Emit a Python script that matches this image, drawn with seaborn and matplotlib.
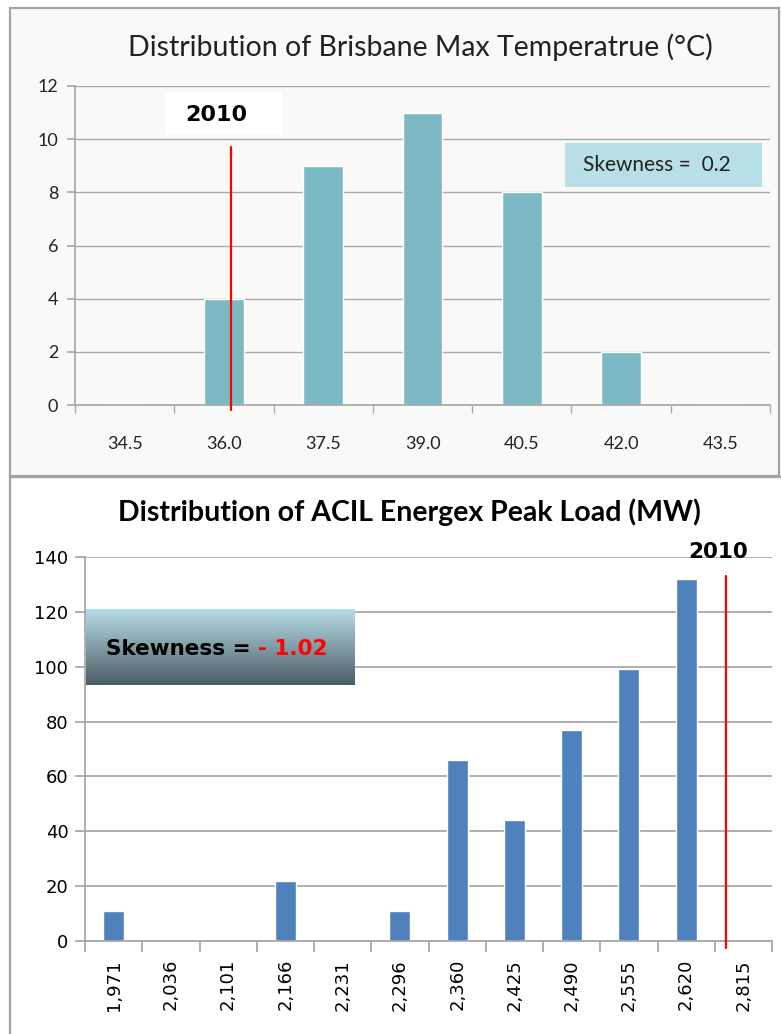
import numpy as np
import pandas as pd
import matplotlib
matplotlib.use("Agg")
import matplotlib.pyplot as plt
import seaborn as sns
from matplotlib.patches import Rectangle

# ---- data -------------------------------------------------------------
temp_bins = ["34.5", "36.0", "37.5", "39.0", "40.5", "42.0", "43.5"]
temp_counts = [0, 4, 9, 11, 8, 2, 0]
temp_skew = "0.2"
temp_2010_pos = 1.07      # 2010 marker, in bin units
temp_2010_top = 9.7

load_bins = ["1,971", "2,036", "2,101", "2,166", "2,231", "2,296",
             "2,360", "2,425", "2,490", "2,555", "2,620", "2,815"]
load_counts = [11, 0, 0, 22, 0, 11, 66, 44, 77, 99, 132, 0]
load_skew = "- 1.02"
load_2010_pos = 10.69     # 2010 marker, in bin units
load_2010_top = 133

sns.set_theme(style="white")
plt.rcParams["font.family"] = ["Lato", "DejaVu Sans"]

W, H = 781, 1034
fig = plt.figure(figsize=(W / 100, H / 100), dpi=100)
fig.patch.set_facecolor("white")


def fx(px):
    return px / W


def fy(py):
    return 1 - py / H


def frame(x0, y0, x1, y1, fc):
    fig.patches.append(Rectangle((fx(x0), fy(y1)), fx(x1) - fx(x0), (y1 - y0) / H,
                                 transform=fig.transFigure, facecolor=fc,
                                 edgecolor="#a3a3a3", linewidth=1.6, zorder=-5))


GRID = "#a8a8a8"
frame(10, 8, 779, 476, "#f9f9f7")
frame(10, 477, 790, 1040, "white")

# ---- top panel: temperature histogram ---------------------------------
ax1 = fig.add_axes([fx(75), fy(405), fx(770) - fx(75), (405 - 86) / H])
ax1.set_facecolor("#f9f9f7")
df_t = pd.DataFrame({"bin": temp_bins, "count": temp_counts})
sns.barplot(data=df_t, x="bin", y="count", order=temp_bins, color="#7db9c4",
            saturation=1, width=0.4, ax=ax1, zorder=2)
ax1.set_xlim(-0.5, len(temp_bins) - 0.5)
ax1.set_ylim(0, 12)
ax1.set_yticks(range(0, 13, 2))
ax1.set_xlabel("")
ax1.set_ylabel("")
ax1.yaxis.grid(True, color=GRID, lw=1)
ax1.set_axisbelow(True)
for s in ["top", "right"]:
    ax1.spines[s].set_visible(False)
for s in ["left", "bottom"]:
    ax1.spines[s].set_color(GRID)
ax1.set_xticks(np.arange(-0.5, len(temp_bins)), minor=True)
ax1.tick_params(axis="x", which="major", length=0, pad=22, labelsize=13,
                labelcolor="#222222")
ax1.tick_params(axis="x", which="minor", length=6, color=GRID, direction="out",
                bottom=True)
ax1.tick_params(axis="y", length=6, color=GRID, left=True, direction="out",
                labelsize=13, labelcolor="#222222", pad=6)
ax1.plot([temp_2010_pos, temp_2010_pos], [-0.2, temp_2010_top], color="red",
         lw=1.6, clip_on=False, zorder=3)
fig.text(fx(420), fy(47),
         "Distribution of Brisbane Max Temperatrue (°C)",
         ha="center", va="center", fontsize=20.5, color="#222222")

# 2010 label on a white block
fig.patches.append(Rectangle((fx(165), fy(135)), fx(282) - fx(165), 43 / H,
                             transform=fig.transFigure, facecolor="white",
                             edgecolor="none", zorder=5))
fig.text(fx(216), fy(115), "2010", ha="center", va="center", fontsize=16,
         fontweight="bold", family="DejaVu Sans", color="black", zorder=6)

# skewness badge
fig.patches.append(Rectangle((fx(565), fy(187)), fx(762) - fx(565), 44 / H,
                             transform=fig.transFigure, facecolor="#b9dfe6",
                             edgecolor="none", zorder=5))
fig.text(fx(657), fy(165), "Skewness =  " + temp_skew, ha="center", va="center",
         fontsize=15, color="#222222", zorder=6)

# ---- bottom panel: peak load histogram --------------------------------
ax2 = fig.add_axes([fx(85), fy(941), fx(772) - fx(85), (941 - 557) / H])
ax2.set_facecolor("white")
df_l = pd.DataFrame({"bin": load_bins, "count": load_counts})
sns.barplot(data=df_l, x="bin", y="count", order=load_bins, color="#4f81bd",
            saturation=1, width=0.37, ax=ax2, zorder=2)
ax2.set_xlim(-0.5, len(load_bins) - 0.5)
ax2.set_ylim(0, 140)
ax2.set_yticks(range(0, 141, 20))
ax2.set_xlabel("")
ax2.set_ylabel("")
ax2.yaxis.grid(True, color=GRID, lw=1.3)
ax2.set_axisbelow(True)
for s in ["top", "right"]:
    ax2.spines[s].set_visible(False)
for s in ["left", "bottom"]:
    ax2.spines[s].set_color(GRID)
    ax2.spines[s].set_linewidth(1.3)
ax2.set_xticks(np.arange(-0.5, len(load_bins)), minor=True)
ax2.tick_params(axis="x", which="major", length=0, pad=13, labelsize=13,
                labelrotation=90, labelcolor="black",
                labelfontfamily="DejaVu Sans")
ax2.tick_params(axis="x", which="minor", length=8, width=1.3, color=GRID,
                direction="out", bottom=True)
ax2.tick_params(axis="y", length=7, width=1.3, color=GRID, left=True,
                direction="out", labelsize=13, labelcolor="black", pad=5,
                labelfontfamily="DejaVu Sans")
ax2.plot([load_2010_pos, load_2010_pos], [-2.5, load_2010_top], color="red",
         lw=1.6, clip_on=False, zorder=3)
fig.text(fx(409), fy(512), "Distribution of ACIL Energex Peak Load (MW)",
         ha="center", va="center", fontsize=20.5, fontweight="bold", color="black")
fig.text(fx(718), fy(552), "2010", ha="center", va="center", fontsize=15.5,
         fontweight="bold", family="DejaVu Sans", color="black")

# gradient skewness badge
axg = fig.add_axes([fx(86), fy(685), fx(355) - fx(86), (685 - 609) / H])
top_c = np.array([183, 221, 232]) / 255
bot_c = np.array([75, 92, 100]) / 255
t = np.linspace(0, 1, 200)[:, None]
grad = (1 - t) * top_c + t * bot_c
axg.imshow(np.repeat(grad[:, None, :], 2, axis=1), aspect="auto",
           extent=[0, 1, 0, 1])
axg.set_axis_off()
axg.set_zorder(5)
t1 = axg.text(0.075, 0.47, "Skewness = ", transform=axg.transAxes, ha="left",
              va="center", fontsize=15.5, fontweight="bold", family="DejaVu Sans",
              color="black")
fig.canvas.draw()
bb = t1.get_window_extent()
x_end = axg.transAxes.inverted().transform((bb.x1, bb.y0))[0]
axg.text(x_end, 0.47, load_skew, transform=axg.transAxes, ha="left",
         va="center", fontsize=15.5, fontweight="bold", family="DejaVu Sans",
         color="red")

fig.savefig("out.png", dpi=100, facecolor="white")
